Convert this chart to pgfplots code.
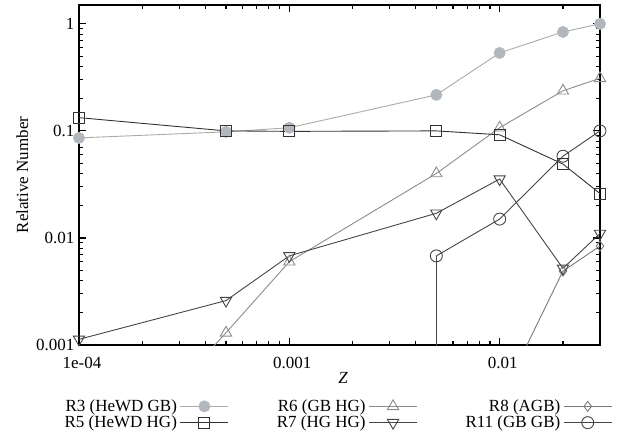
\documentclass[border=0pt]{standalone}
\usepackage{pgfplots}
\pgfplotsset{compat=1.18}
\usepackage{fontspec}
\setmainfont{Liberation Serif}
\newfontfamily\tnr{Liberation Serif}
\usetikzlibrary{calc}
\definecolor{cRthreeF}{HTML}{B2B7BD}
\definecolor{cRthreeL}{HTML}{ABABAB}
\definecolor{cRfive}{HTML}{333333}
\definecolor{cRsix}{HTML}{8C8C8C}
\definecolor{cRseven}{HTML}{444444}
\definecolor{cReight}{HTML}{7A7A7A}
\definecolor{cReleven}{HTML}{444444}
\begin{document}
\begin{tikzpicture}[font=\tnr\fontsize{17}{20}\selectfont]
\begin{axis}[
  scale only axis, width=521pt, height=340pt,
  xmode=log, ymode=log,
  xmin=1e-4, xmax=0.03, ymin=0.001, ymax=1.5,
  xtick={1e-4,0.001,0.01}, xticklabels={1e-04,0.001,0.01},
  ytick={0.001,0.01,0.1,1}, yticklabels={0.001,0.01,0.1,1},
  minor xtick={2e-4,3e-4,4e-4,5e-4,6e-4,7e-4,8e-4,9e-4,2e-3,3e-3,4e-3,5e-3,6e-3,7e-3,8e-3,9e-3,2e-2,3e-2},
  minor ytick={2e-3,3e-3,4e-3,5e-3,6e-3,7e-3,8e-3,9e-3,2e-2,3e-2,4e-2,5e-2,6e-2,7e-2,8e-2,9e-2,0.2,0.3,0.4,0.5,0.6,0.7,0.8,0.9},
  /pgf/number format/assume math mode=true,
  tick label style={font=\tnr\fontsize{17}{20}\selectfont},
  label style={font=\tnr\fontsize{17}{20}\selectfont},
  xticklabel style={yshift=-9pt, xshift=3pt},
  yticklabel style={xshift=-1pt},
  tick align=inside,
  major tick length=7pt, minor tick length=4pt,
  axis line style={line width=1.6pt},
  every tick/.style={black, line width=1.1pt},
  xlabel={\textit{Z}},
  xlabel style={at={(axis description cs:0.507,-0.097)}, anchor=center},
  ylabel={Relative Number},
  ylabel style={at={(axis description cs:-0.109,0.5)}, anchor=center},
  legend columns=3,
  legend cell align=right,
  legend plot pos=right,
  legend style={draw=none, fill=none, at={(axis description cs:0.495,-0.15)}, anchor=north,
    font=\tnr\fontsize{17}{20}\selectfont,
    nodes={inner xsep=3pt, inner ysep=1.5pt},
    /tikz/every even column/.append style={column sep=45pt}},
  legend image code/.code={\draw[mark repeat=2,mark phase=2,#1] plot coordinates {(0pt,0pt)(24pt,0pt)(48pt,0pt)};},
]
% R3
\addplot[cRthreeL, line width=0.9pt, mark=*, mark size=5.5pt, mark options={fill=cRthreeF, draw=cRthreeF}]
  coordinates {(1e-4,0.086)(5e-4,0.098)(0.001,0.107)(0.005,0.217)(0.01,0.535)(0.02,0.84)(0.03,1.0)};
\addlegendentry{R3 (HeWD GB)}
% R6
\addplot[forget plot, cRsix, line width=0.9pt] coordinates {(1e-4,4.2e-5)(5e-4,0.0013)};
\addplot[cRsix, line width=0.9pt, mark=triangle, mark size=6.5pt, mark options={line width=0.9pt}]
  coordinates {(5e-4,0.0013)(0.001,0.006)(0.005,0.040)(0.01,0.107)(0.02,0.237)(0.03,0.31)};
\addlegendentry{R6 (GB HG)}
% R8
\addplot[forget plot, cReight, line width=0.9pt] coordinates {(0.01,3e-4)(0.02,0.0049)};
\addplot[cReight, line width=0.9pt, mark=diamond, mark size=5pt, mark options={line width=0.9pt}]
  coordinates {(0.02,0.0049)(0.03,0.0084)};
\addlegendentry{R8 (AGB)}
% R5
\addplot[cRfive, line width=0.9pt, mark=square, mark size=5.5pt, mark options={line width=0.9pt}]
  coordinates {(1e-4,0.133)(5e-4,0.100)(0.001,0.099)(0.005,0.100)(0.01,0.092)(0.02,0.049)(0.03,0.026)};
\addlegendentry{R5 (HeWD HG)}
% R7
\addplot[cRseven, line width=0.9pt, mark=triangle, mark size=6.5pt, mark options={line width=0.9pt, rotate=180}]
  coordinates {(1e-4,0.00113)(5e-4,0.0026)(0.001,0.0068)(0.005,0.017)(0.01,0.0355)(0.02,0.0052)(0.03,0.011)};
\addlegendentry{R7 (HG HG)}
% R11
\addplot[forget plot, cReleven, line width=0.9pt] coordinates {(0.005,1e-6)(0.005,0.0068)};
\addplot[cReleven, line width=0.9pt, mark=o, mark size=6pt, mark options={line width=0.9pt}]
  coordinates {(0.005,0.0068)(0.01,0.015)(0.02,0.058)(0.03,0.1)};
\addlegendentry{R11 (GB GB)}
\coordinate (SW) at (rel axis cs:0,0);
\coordinate (NE) at (rel axis cs:1,1);
\end{axis}
\pgfresetboundingbox
\path ($(SW)+(-79pt,-94pt)$) rectangle ($(NE)+(32pt,5pt)$);
\end{tikzpicture}
\end{document}
